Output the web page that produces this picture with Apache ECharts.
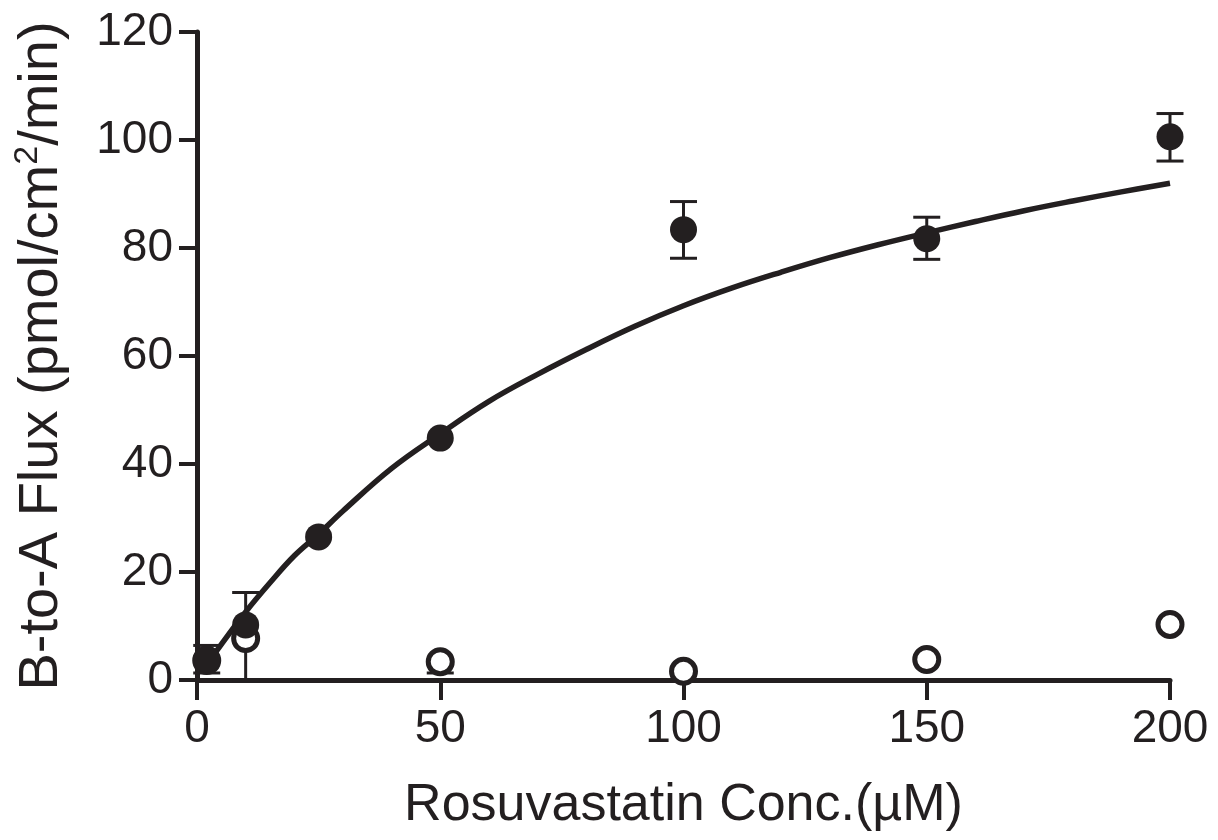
<!DOCTYPE html>
<html>
<head>
<meta charset="utf-8">
<script src="https://cdn.jsdelivr.net/npm/echarts@6/dist/echarts.min.js"></script>
<style>
  html, body { margin: 0; padding: 0; background: #fff; }
  #chart { width: 1218px; height: 840px; }
</style>
</head>
<body>
<div id="chart"></div>
<script>
// concentrations (uM), flux and visible error bar ends
// (an end equal to the mean means no bar is visible on that side)
var concFilled = [2, 10, 25, 50, 100, 150, 200];
var fluxFilled = [3.9, 10.2, 26.5, 44.8, 83.4, 81.7, 100.6];
var lowFilled = [1.3, 10.2, 26.5, 44.8, 78.1, 77.9, 96.1];
var highFilled = [6.4, 16.2, 26.5, 44.8, 88.6, 85.7, 104.9];

var concOpen = [2, 10, 50, 100, 150, 200];
var fluxOpen = [3.6, 7.7, 3.4, 1.6, 3.8, 10.3];
var lowOpen = [3.6, 0, 1.3, 0.1, 3.8, 10.3];
var highOpen = [3.6, 7.7, 3.4, 1.6, 3.8, 10.3];

// fitted curve
var fitX = [2, 5, 10, 15, 20, 25, 30, 40, 50, 60, 70, 80, 90, 100, 110, 120, 130, 140, 150, 160, 170, 180, 190, 200];
var fitY = [2.8, 6.6, 12.6, 18.0, 23.0, 27.0, 31.3, 39.2, 45.6, 51.6, 56.6, 61.2, 65.5, 69.3, 72.6, 75.5, 78.2, 80.6, 82.8, 84.9, 86.9, 88.7, 90.4, 92.0];

var xTicks = [0, 50, 100, 150, 200];
var yTicks = [0, 20, 40, 60, 80, 100, 120];

var ink = '#231f20';
var font = 'Liberation Sans';

function pairs(xs, ys) {
    return xs.map(function(x, i) { return [x, ys[i]]; });
}
function errRows(xs, ys, lo, hi) {
    return xs.map(function(x, i) { return [x, ys[i], lo[i], hi[i]]; });
}

function drawErr(params, api) {
    var x = api.value(0), mean = api.value(1);
    var mid = api.coord([x, mean]);
    var half = 13.5;
    var st = { stroke: ink, lineWidth: 3 };
    var kids = [];
    [api.value(2), api.value(3)].forEach(function(end) {
        if (end === mean) return;
        var p = api.coord([x, end]);
        kids.push({ type: 'line', shape: { x1: mid[0], y1: mid[1], x2: p[0], y2: p[1] }, style: st });
        kids.push({ type: 'line', shape: { x1: p[0] - half, y1: p[1], x2: p[0] + half, y2: p[1] }, style: st });
    });
    return { type: 'group', children: kids };
}

var ec = echarts.init(document.getElementById('chart'));
ec.setOption({
    animation: false,
    grid: { left: 197, right: 48, top: 32, bottom: 160 },
    xAxis: {
        type: 'value',
        min: xTicks[0],
        max: xTicks[xTicks.length - 1],
        interval: 50,
        name: 'Rosuvastatin Conc.(\u00b5M)',
        nameLocation: 'middle',
        nameGap: 100,
        nameTextStyle: { fontFamily: font, fontSize: 52, color: ink },
        axisLine: { lineStyle: { color: ink, width: 5 } },
        axisTick: { length: 20, lineStyle: { color: ink, width: 4 } },
        axisLabel: { margin: 26, fontFamily: font, fontSize: 46, color: ink },
        splitLine: { show: false }
    },
    yAxis: {
        type: 'value',
        min: yTicks[0],
        max: yTicks[yTicks.length - 1],
        interval: 20,
        name: '{n|B-to-A Flux (pmol/cm}{s|2}{n|/min)}',
        nameLocation: 'middle',
        nameRotate: 90,
        nameGap: 124,
        nameTextStyle: {
            rich: {
                n: { fontFamily: font, fontSize: 56, color: ink, lineHeight: 62 },
                s: { fontFamily: font, fontSize: 34, color: ink, verticalAlign: 'top', lineHeight: 62 }
            }
        },
        axisLine: { lineStyle: { color: ink, width: 5 } },
        axisTick: { length: 18, lineStyle: { color: ink, width: 4 } },
        axisLabel: { margin: 24, fontFamily: font, fontSize: 46, color: ink },
        splitLine: { show: false }
    },
    series: [
        {
            type: 'line',
            data: pairs(fitX, fitY),
            smooth: 0.4,
            showSymbol: false,
            lineStyle: { color: ink, width: 5.5 },
            z: 3
        },
        {
            type: 'custom',
            data: errRows(concOpen, fluxOpen, lowOpen, highOpen),
            renderItem: drawErr,
            encode: { x: 0, y: [1, 2, 3] },
            clip: false,
            z: 4
        },
        {
            type: 'custom',
            data: errRows(concFilled, fluxFilled, lowFilled, highFilled),
            renderItem: drawErr,
            encode: { x: 0, y: [1, 2, 3] },
            clip: false,
            z: 4
        },
        {
            type: 'scatter',
            data: pairs(concOpen, fluxOpen),
            symbol: 'circle',
            symbolSize: 24,
            itemStyle: { color: '#fff', borderColor: ink, borderWidth: 5, opacity: 1 },
            z: 5
        },
        {
            type: 'scatter',
            data: pairs(concFilled, fluxFilled),
            symbol: 'circle',
            symbolSize: 27,
            itemStyle: { color: ink, opacity: 1 },
            z: 7
        }
    ]
});
</script>
</body>
</html>
